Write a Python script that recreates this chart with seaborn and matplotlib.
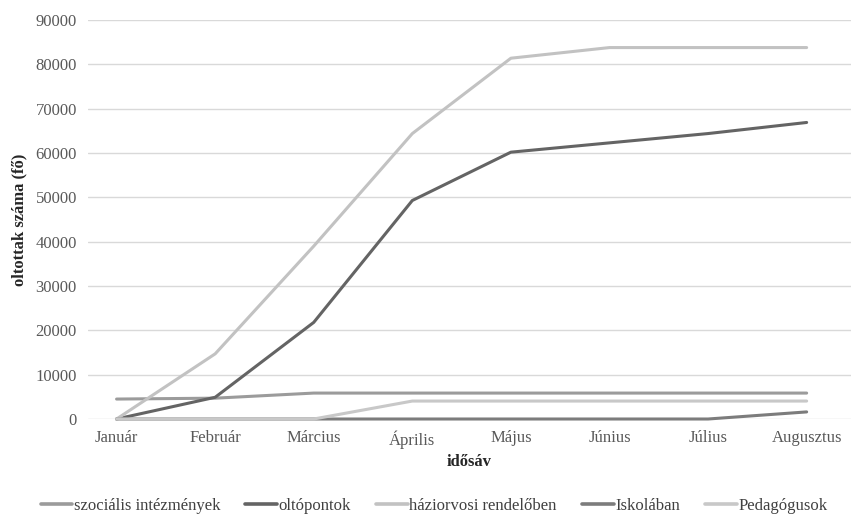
import pandas as pd
import numpy as np
import matplotlib.pyplot as plt
import seaborn as sns

sns.set_style("white")
plt.rcParams['font.family'] = ['Liberation Serif', 'DejaVu Serif']

# data
months = ['Január', 'Február', 'Március', 'Április', 'Május', 'Június', 'Július', 'Augusztus']
szocialis = [4500, 4700, 5850, 5850, 5850, 5850, 5850, 5850]
oltopontok = [0, 4900, 21800, 49300, 60200, 62300, 64400, 66900]
haziorvosi = [0, 14700, 39000, 64400, 81400, 83800, 83800, 83800]
iskolaban = [0, 0, 0, 0, 0, 0, 0, 1600]
pedagogusok = [0, 0, 0, 4050, 4050, 4050, 4050, 4050]

series_names = ['szociális intézmények', 'oltópontok', 'háziorvosi rendelőben', 'Iskolában', 'Pedagógusok']
colors = ['#9b9b9b', '#646464', '#c2c2c2', '#7c7c7c', '#c8c8c8']

df = pd.DataFrame({'hónap': months,
                   series_names[0]: szocialis,
                   series_names[1]: oltopontok,
                   series_names[2]: haziorvosi,
                   series_names[3]: iskolaban,
                   series_names[4]: pedagogusok})
long_df = df.melt(id_vars='hónap', var_name='csoport', value_name='oltottak')
long_df['x'] = long_df['hónap'].map({m: i for i, m in enumerate(months)})

fig = plt.figure(figsize=(8.51, 5.15), dpi=100)
ax = fig.add_axes([0.1034, 0.1864, 0.8966, 0.7746])

sns.lineplot(data=long_df, x='x', y='oltottak', hue='csoport', hue_order=series_names,
             palette=colors, linewidth=2.2, ax=ax, legend=False)
for line in ax.lines:
    line.set_clip_on(False)
    line.set_solid_capstyle('round')

ax.set_xlim(-0.29, 7.45)
ax.set_ylim(0, 90000)
ax.set_yticks(np.arange(0, 90001, 10000))
ax.set_yticklabels([str(v) for v in range(0, 90001, 10000)])
ax.set_xticks(range(len(months)))
ax.set_xticklabels(months)
ax.tick_params(axis='both', length=0, labelsize=12, labelcolor='#595959', pad=8)
ax.yaxis.grid(True, color='#d9d9d9', linewidth=1)
ax.set_axisbelow(True)
for s in ax.spines.values():
    s.set_visible(False)

ax.set_xlabel('idősáv', fontsize=12, fontweight='bold', labelpad=4)
ax.set_ylabel('oltottak száma (fő)', fontsize=12, fontweight='bold', labelpad=6)

handles = [plt.Line2D([], [], color=c, linewidth=2.6) for c in colors]
fig.legend(handles, series_names, loc='center', bbox_to_anchor=(0.51, 0.018),
           ncol=5, frameon=False, fontsize=12, handlelength=1.9, handletextpad=0.1,
           columnspacing=1.5, labelcolor='#404040')

fig.savefig('out.png', dpi=100)
